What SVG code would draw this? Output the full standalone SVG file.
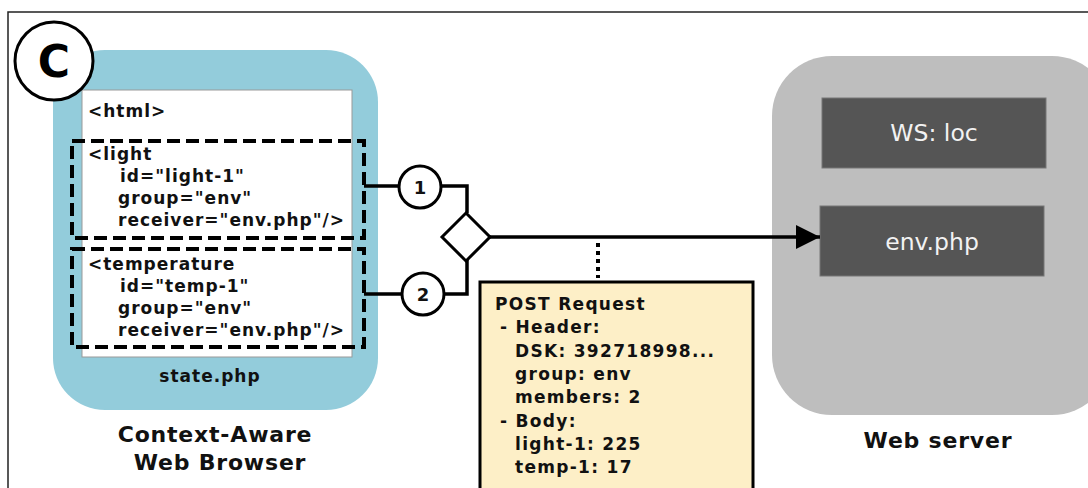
<svg xmlns="http://www.w3.org/2000/svg" width="1088" height="488" viewBox="0 0 1088 488">
<style>
.code{font-family:"DejaVu Sans",Verdana,sans-serif;font-weight:bold;font-size:17px;fill:#111;letter-spacing:1px}
.post{font-family:"DejaVu Sans",Verdana,sans-serif;font-weight:bold;font-size:17px;fill:#111;letter-spacing:1.3px}
.lbl{font-family:"DejaVu Sans",Verdana,sans-serif;font-weight:bold;font-size:22px;fill:#111;letter-spacing:0.8px;text-anchor:middle}
.ws{font-family:"DejaVu Sans",Verdana,sans-serif;font-size:23.5px;fill:#f2f2f2;text-anchor:middle}
.dash{fill:none;stroke:#000;stroke-width:4;stroke-dasharray:13 6}
.line{fill:none;stroke:#000;stroke-width:3.5}
.num{fill:#fff;stroke:#000;stroke-width:3}
.numt{font-family:"DejaVu Sans",Verdana,sans-serif;font-weight:bold;font-size:18px;fill:#111;text-anchor:middle}
</style>
<defs>
<marker id="arr" markerWidth="24" markerHeight="24" refX="24" refY="12" orient="auto" markerUnits="userSpaceOnUse" viewBox="0 0 24 24">
<path d="M0,0 L24,12 L0,24 Z" fill="#000"/>
</marker>
</defs>
<rect width="1088" height="488" fill="#fff"/>
<path d="M8,488 V12 H1088" fill="none" stroke="#222" stroke-width="1.5"/>

<g id="browser">
<rect x="53" y="50" width="325" height="360" rx="52" fill="#93CCDB"/>
<rect x="82" y="90" width="270" height="267" fill="#fff" stroke="#999" stroke-width="1"/>
<text class="code" x="88" y="117">&lt;html&gt;</text>
<text class="code" x="210" y="382" text-anchor="middle">state.php</text>
<text class="lbl" x="215" y="442">Context-Aware</text>
<text class="lbl" x="220" y="470">Web Browser</text>
</g>

<g id="light">
<rect class="dash" x="72" y="141" width="292" height="97"/>
<text class="code" x="88" y="160">&lt;light</text>
<text class="code" x="120" y="182">id="light-1"</text>
<text class="code" x="118" y="204">group="env"</text>
<text class="code" x="118" y="226">receiver="env.php"/&gt;</text>
</g>

<g id="temperature">
<rect class="dash" x="72" y="249" width="292" height="98"/>
<text class="code" x="88" y="270">&lt;temperature</text>
<text class="code" x="120" y="292">id="temp-1"</text>
<text class="code" x="118" y="314">group="env"</text>
<text class="code" x="118" y="336">receiver="env.php"/&gt;</text>
</g>

<g id="label-c">
<circle cx="54" cy="61" r="39" fill="#fff" stroke="#000" stroke-width="3"/>
<text x="54" y="77" font-family="DejaVu Sans,Verdana,sans-serif" font-weight="bold" font-size="44" text-anchor="middle" fill="#000">C</text>
</g>

<g id="post">
<rect x="480" y="282" width="273" height="220" fill="#FDEFC7" stroke="#000" stroke-width="3"/>
<text class="post" x="495" y="310">POST Request</text>
<text class="post" x="500" y="333">- Header:</text>
<text class="post" x="515" y="357">DSK: 392718998...</text>
<text class="post" x="515" y="380">group: env</text>
<text class="post" x="515" y="403">members: 2</text>
<text class="post" x="500" y="427">- Body:</text>
<text class="post" x="515" y="450">light-1: 225</text>
<text class="post" x="515" y="473">temp-1: 17</text>
</g>

<g id="server">
<rect x="772" y="56" width="340" height="359" rx="60" fill="#BEBEBE"/>
<text class="lbl" x="938" y="448">Web server</text>
</g>
<g id="ws-loc">
<rect x="822" y="98" width="224" height="70" fill="#555" stroke="#777" stroke-width="1"/>
<text class="ws" x="934" y="141">WS: loc</text>
</g>
<g id="env-php">
<rect x="820" y="206" width="224" height="70" fill="#555" stroke="#777" stroke-width="1"/>
<text class="ws" x="932" y="250">env.php</text>
</g>

<g id="connectors">
<path class="line" d="M364,186 H467 V213"/>
<path class="line" d="M364,294 H467 V260"/>
<path class="line" d="M490,237 H820" marker-end="url(#arr)" stroke-width="4"/>
<path d="M598,243 V278" stroke="#000" stroke-width="4" stroke-dasharray="4 4"/>
</g>

<g id="step1">
<circle class="num" cx="420" cy="187" r="21"/>
<text class="numt" x="420" y="194">1</text>
</g>
<g id="step2">
<circle class="num" cx="423" cy="294" r="21"/>
<text class="numt" x="423" y="301">2</text>
</g>
<g id="merge">
<path d="M466,213 L490,237 L466,261 L442,237 Z" fill="#fff" stroke="#000" stroke-width="3"/>
</g>
</svg>
